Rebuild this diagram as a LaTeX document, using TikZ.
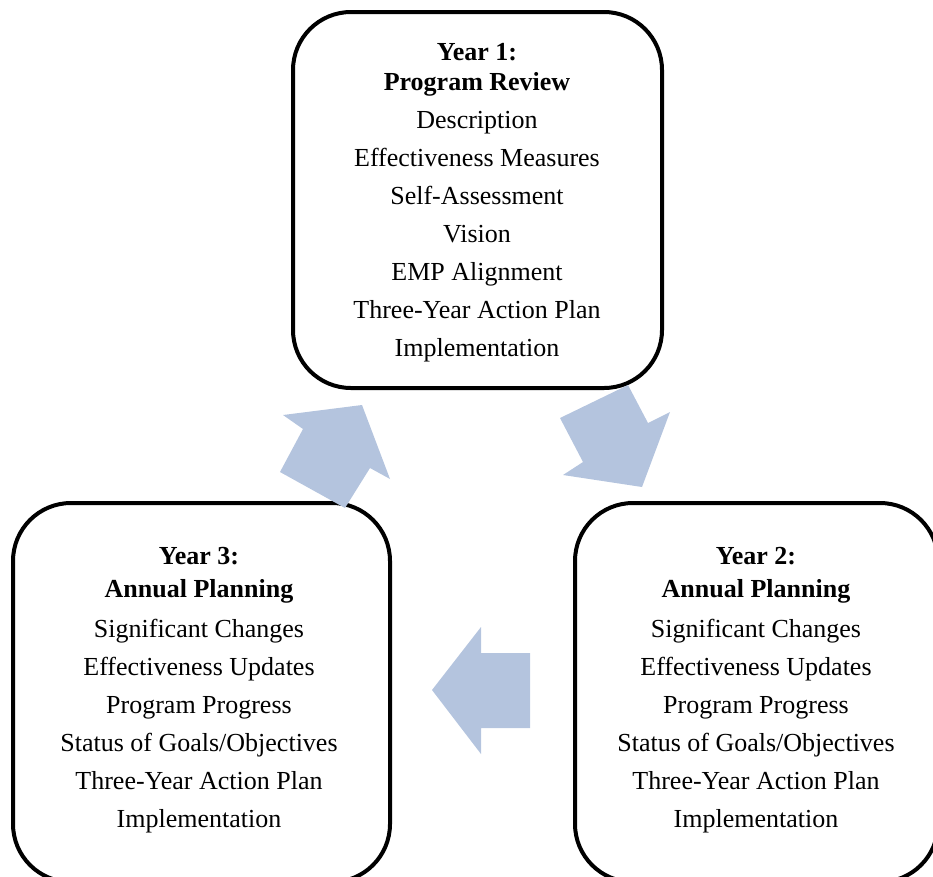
\documentclass[tikz,border=0pt]{standalone}
\usepackage{fontspec}
\setmainfont{Liberation Serif}
\definecolor{arrowblue}{RGB}{180,196,222}
\begin{document}
\begin{tikzpicture}[x=1pt,y=-1pt,
  stagebox/.style={draw=black, line width=4pt, rounded corners=58pt, fill=white},
  stagetext/.style={align=center, font=\fontsize{26}{38}\selectfont, inner sep=0pt},
  blockarrow/.style={fill=arrowblue, draw=none}]
\useasboundingbox (0,0) rectangle (933,876);
% boxes
\draw[stagebox] (293,12) rectangle (662,388);
\draw[stagebox] (13,503) rectangle (390,882);
\draw[stagebox] (575,503) rectangle (938,882);
% texts
\node[stagetext] (y1) at (477,202.5) {\textbf{Year 1:}\\[-8pt]\textbf{Program Review}\\Description\\Effectiveness Measures\\Self-Assessment\\Vision\\EMP Alignment\\Three-Year Action Plan\\Implementation};
\node[stagetext] (y3) at (199,690) {\textbf{Year 3:}\\[-5pt]\textbf{Annual Planning}\\[2pt]Significant Changes\\Effectiveness Updates\\Program Progress\\Status of Goals/Objectives\\Three-Year Action Plan\\Implementation};
\node[stagetext] (y2) at (756,690) {\textbf{Year 2:}\\[-5pt]\textbf{Annual Planning}\\[2pt]Significant Changes\\Effectiveness Updates\\Program Progress\\Status of Goals/Objectives\\Three-Year Action Plan\\Implementation};
% block arrows
\fill[blockarrow] (362,405) -- (390,479) -- (370,468) -- (345,508) -- (280,472) -- (303,429) -- (283,415) -- cycle;
\fill[blockarrow] (560,418) -- (628,385) -- (648,423) -- (670,412) -- (642,487) -- (563,475) -- (583,462) -- cycle;
\fill[blockarrow] (432,690) -- (481,627) -- (481,653) -- (530,653) -- (530,728) -- (481,728) -- (481,754) -- cycle;
\end{tikzpicture}
\end{document}
